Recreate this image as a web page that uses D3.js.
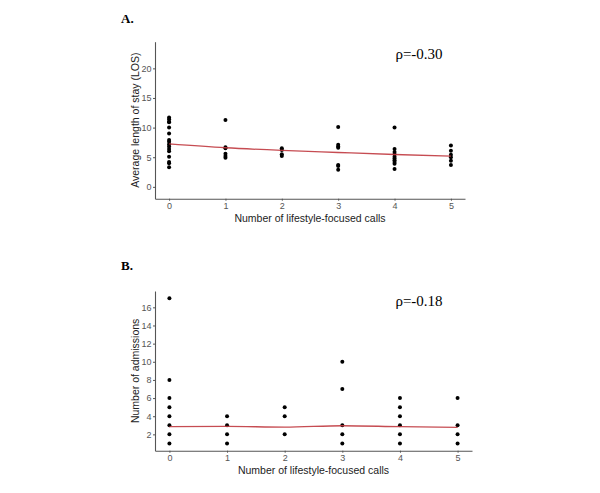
<!DOCTYPE html>
<html><head><meta charset="utf-8">
<script src="https://cdn.jsdelivr.net/npm/d3@7"></script>
<style>body{margin:0;background:#fff}svg{display:block}</style>
</head><body>
<svg id="c" width="600" height="493"></svg>
<script>
// Panel A: Average length of stay (LOS) by number of calls
const callsA = [0,1,2,3,4,5];
const losByCalls = [
  [11.7, 11.4, 11.0, 10.9, 10.0, 9.0, 7.9, 7.6, 7.2, 6.8, 6.4, 6.0, 5.1, 4.2, 4.0, 3.3],
  [11.3, 6.7, 6.5, 5.6, 5.2, 4.9],
  [6.5, 6.2, 5.5, 5.2],
  [10.1, 7.1, 6.8, 6.6, 3.7, 3.5, 2.9],
  [10.0, 6.4, 5.9, 5.5, 5.1, 4.8, 4.5, 4.2, 3.9, 3.0],
  [7.0, 6.1, 5.4, 5.0, 4.4, 3.7]
];
const trendA = [7.25, 6.6, 6.15, 5.8, 5.46, 5.18];
const ticksA = [0,5,10,15,20];

// Panel B: Number of admissions by number of calls
const callsB = [0,1,2,3,4,5];
const admByCalls = [
  [17, 8, 6, 5, 4, 3, 2, 1],
  [4, 3, 2, 1],
  [5, 4, 2],
  [10, 7, 3, 2, 1],
  [6, 5, 4, 3, 2, 1],
  [6, 3, 2, 1]
];
const trendB = [2.85, 2.88, 2.8, 2.95, 2.85, 2.78];
const ticksB = [2,4,6,8,10,12,14,16];
const xTicks = [0,1,2,3,4,5];

const svg = d3.select("#c");
const SANS = "Liberation Sans, Arial, sans-serif";
const SERIF = "Liberation Serif, Times New Roman, serif";

function panel(o){
  const g = svg.append("g");
  const x = d3.scaleLinear().domain([-0.25,5.25]).range([o.left,o.right]);
  const y = d3.scaleLinear().domain(o.ydom).range([o.bottom,o.top]);
  const ax = g.append("g").attr("transform",`translate(0,${o.bottom})`)
    .call(d3.axisBottom(x).tickValues(xTicks).tickFormat(d3.format("d")).tickSize(2).tickPadding(2).tickSizeOuter(0));
  const ay = g.append("g").attr("transform",`translate(${o.left},0)`)
    .call(d3.axisLeft(y).tickValues(o.ticks).tickFormat(d3.format("d")).tickSize(2).tickPadding(1.5).tickSizeOuter(0));
  [ax,ay].forEach(a=>{
    a.select(".domain").attr("stroke","#555").attr("stroke-width",1.1);
    a.selectAll(".tick line").attr("stroke","#555");
    a.selectAll("text").attr("fill","#555").attr("font-family",SANS).attr("font-size",9);
  });
  const pts = [];
  o.calls.forEach((c,i)=>o.vals[i].forEach(v=>pts.push([c,v])));
  g.append("g").selectAll("circle").data(pts).join("circle")
    .attr("cx",d=>x(d[0])).attr("cy",d=>y(d[1])).attr("r",2).attr("fill","#000");
  g.append("path").datum(o.calls.map((c,i)=>[c,o.trend[i]]))
    .attr("d",d3.line().x(d=>x(d[0])).y(d=>y(d[1])).curve(d3.curveMonotoneX))
    .attr("fill","none").attr("stroke","#c0393f").attr("stroke-width",1.3).attr("opacity",0.9);
  g.append("text").attr("x",(o.left+o.right)/2).attr("y",o.bottom+23.5)
    .attr("text-anchor","middle").attr("font-family",SANS).attr("font-size",10.5).attr("fill","#222")
    .text("Number of lifestyle-focused calls");
  g.append("text").attr("transform",`translate(${o.left-16.5},${(o.top+o.bottom)/2}) rotate(-90)`)
    .attr("text-anchor","middle").attr("font-family",SANS).attr("font-size",10.5).attr("fill","#222")
    .text(o.ytitle);
  g.append("text").attr("x",o.rhoX).attr("y",o.rhoY).attr("text-anchor","middle")
    .attr("font-family",SERIF).attr("font-size",15).attr("fill","#000")
    .text(o.rho);
  g.append("text").attr("x",121).attr("y",o.labelY)
    .attr("font-family",SERIF).attr("font-weight","bold").attr("font-size",13).attr("fill","#000")
    .text(o.label);
}

panel({left:155,right:465,top:41.7,bottom:198.7,ydom:[-2,24.5],ticks:ticksA,
  calls:callsA,vals:losByCalls,trend:trendA,ytitle:"Average length of stay (LOS)",
  rho:"ρ=-0.30",rhoX:419,rhoY:58.5,label:"A.",labelY:23.3});
panel({left:155,right:472,top:291,bottom:450.7,ydom:[0.2,17.8],ticks:ticksB,
  calls:callsB,vals:admByCalls,trend:trendB,ytitle:"Number of admissions",
  rho:"ρ=-0.18",rhoX:419,rhoY:305.5,label:"B.",labelY:270});
</script>
</body></html>
